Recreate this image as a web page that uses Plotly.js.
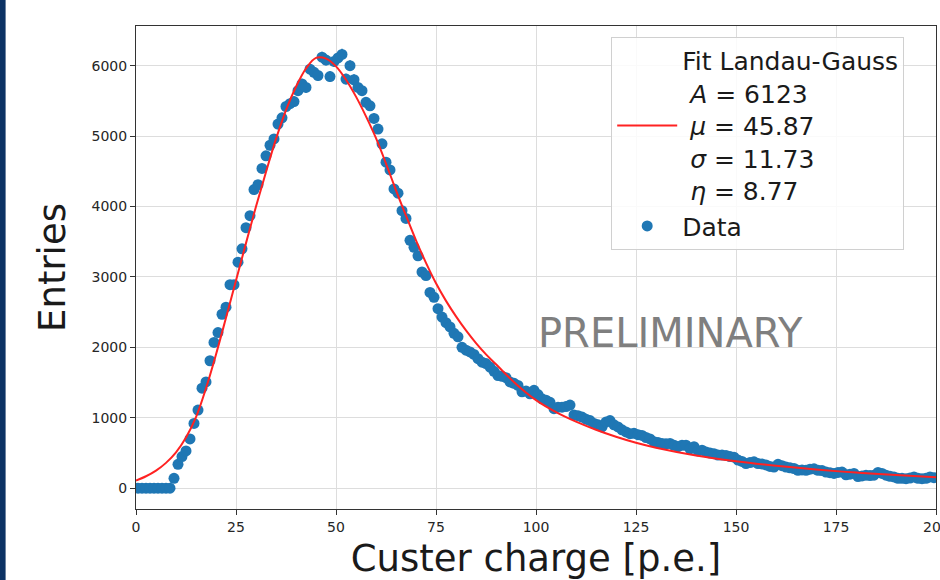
<!DOCTYPE html>
<html>
<head>
<meta charset="utf-8">
<script src="https://cdn.plot.ly/plotly-3.0.1.min.js"></script>
<style>html,body{margin:0;padding:0;background:#fff;}#chart{width:940px;height:580px;}</style>
</head>
<body>
<div id="chart"></div>
<script>
// Histogram of cluster charge: bin centres start at 0.5, bin width 1 p.e.
const binStart = 0.5;
const binWidth = 1;
const dataEntries = [
  0, 0, 0, 0, 0, 0, 0, 0, 0, 140,
  340, 450, 530, 700, 920, 1110, 1420, 1510, 1810, 2070,
  2210, 2470, 2570, 2890, 2890, 3210, 3400, 3700, 3870, 4240,
  4310, 4540, 4720, 4870, 4960, 5170, 5260, 5420, 5460, 5490,
  5645, 5740, 5690, 5950, 5905, 5860, 6120, 6080, 5845, 6060,
  6110, 6160, 5810, 6000, 5800, 5690, 5645, 5480, 5430, 5250,
  5100, 4890, 4630, 4520, 4250, 4190, 3940, 3830, 3520, 3420,
  3300, 3070, 3020, 2780, 2710, 2550, 2430, 2350, 2290, 2200,
  2150, 2000, 1960, 1935, 1900, 1840, 1790, 1770, 1720, 1660,
  1600, 1590, 1570, 1510, 1490, 1460, 1370, 1380, 1340, 1390,
  1330, 1270, 1250, 1220, 1130, 1150, 1150, 1160, 1180, 1040,
  1030, 1010, 980, 960, 920, 900, 870, 940, 960, 900,
  870, 830, 800, 775, 780, 760, 750, 720, 700, 660,
  650, 635, 630, 635, 610, 590, 610, 610, 560, 590,
  530, 540, 515, 500, 490, 470, 470, 465, 450, 440,
  400, 380, 350, 365, 375, 350, 345, 330, 310, 300,
  340, 320, 300, 290, 280, 255, 260, 255, 270, 275,
  255, 250, 230, 220, 210, 225, 230, 190, 200, 210,
  165, 175, 185, 180, 185, 225, 210, 185, 170, 160,
  140, 140, 135, 145, 160, 140, 135, 140, 160, 150
];
const dataCharge = dataEntries.map((_, i) => binStart + i * binWidth);

// Fit curve
const fitCharge = [0, 2.5, 5, 7.5, 10, 12.5, 15, 17.5, 20, 22.5, 25, 27.5, 30, 32.5, 35, 37.5, 40, 42.5, 45, 47.5, 50, 52.5, 55, 57.5, 60, 62.5, 65, 67.5, 70, 72.5, 75, 77.5, 80, 82.5, 85, 87.5, 90, 95, 100, 105, 110, 115, 120, 125, 130, 140, 150, 160, 170, 180, 190, 200];
const fitEntries = [110, 170, 250, 360, 510, 720, 1010, 1420, 1900, 2420, 2950, 3480, 4000, 4490, 4960, 5370, 5700, 5960, 6110, 6100, 5990, 5800, 5560, 5280, 4970, 4610, 4230, 3870, 3520, 3200, 2910, 2660, 2440, 2240, 2060, 1900, 1760, 1480, 1250, 1080, 945, 830, 730, 645, 575, 465, 383, 318, 265, 222, 187, 157];

const fitLabel = 'Fit Landau-Gauss<br>\u00a0<i>A</i> = 6123<br>\u00a0<i>μ</i> = 45.87<br>\u00a0<i>σ</i> = 11.73<br>\u00a0<i>η</i> = 8.77';
const xTicks = [0, 25, 50, 75, 100, 125, 150, 175, 200];
const yTicks = [0, 1000, 2000, 3000, 4000, 5000, 6000];

const FONT = 'DejaVu Sans, Verdana, sans-serif';

const traces = [
  {
    x: dataCharge, y: dataEntries, type: 'scatter', mode: 'markers', name: 'Data',
    marker: {color: '#1f77b4', size: 11},
    error_y: {type: 'sqrt', visible: true, color: '#1f77b4', thickness: 1.5, width: 0}
  },
  {
    x: fitCharge, y: fitEntries, type: 'scatter', mode: 'lines', name: fitLabel,
    line: {color: '#ff2222', width: 2, shape: 'spline', smoothing: 1}
  }
];

const layout = {
  width: 940, height: 580,
  paper_bgcolor: '#ffffff', plot_bgcolor: '#ffffff',
  margin: {l: 136, r: 4, t: 26, b: 70.5, pad: 0},
  font: {family: FONT, color: '#262626'},
  showlegend: true,
  legend: {
    x: 0.594, y: 0.978, xanchor: 'left', yanchor: 'top',
    traceorder: 'reversed', bgcolor: 'rgba(255,255,255,0.85)',
    bordercolor: '#d0d0d0', borderwidth: 1,
    font: {family: FONT, size: 25, color: '#1a1a1a'},
    itemwidth: 60, tracegroupgap: 4
  },
  xaxis: {
    range: [0, 200], tickvals: xTicks, ticktext: xTicks.map(String),
    showgrid: true, gridcolor: '#dddddd', gridwidth: 1, zeroline: false,
    showline: true, mirror: true, linecolor: '#333333', linewidth: 1,
    ticks: 'outside', ticklen: 5, tickcolor: '#333333',
    tickfont: {family: FONT, size: 14, color: '#262626'},
    title: {text: 'Custer charge [p.e.]', font: {family: FONT, size: 37, color: '#1a1a1a'}, standoff: 11}
  },
  yaxis: {
    range: [-295, 6563], tickvals: yTicks, ticktext: yTicks.map(String),
    showgrid: true, gridcolor: '#dddddd', gridwidth: 1, zeroline: false,
    showline: true, mirror: true, linecolor: '#333333', linewidth: 1,
    ticks: 'outside', ticklen: 5, tickcolor: '#333333',
    tickfont: {family: FONT, size: 14, color: '#262626'},
    title: {text: 'Entries', font: {family: FONT, size: 37, color: '#1a1a1a'}, standoff: 14}
  },
  annotations: [
    {
      x: 133.5, y: 2210, xref: 'x', yref: 'y', text: 'PRELIMINARY', showarrow: false,
      font: {family: FONT, size: 40, color: '#7f7f7f'}, xanchor: 'center', yanchor: 'middle'
    },
    {
      x: 200, y: -0.016, xref: 'x', yref: 'paper', text: String(xTicks[xTicks.length - 1]), showarrow: false,
      font: {family: FONT, size: 14, color: '#262626'}, xanchor: 'center', yanchor: 'top'
    }
  ],
  shapes: [{
    type: 'rect', xref: 'paper', yref: 'paper', x0: -0.171, x1: -0.163, y0: -0.2, y1: 1.2,
    fillcolor: '#0c3264', line: {width: 0}, layer: 'above'
  }]
};

Plotly.newPlot('chart', traces, layout, {displayModeBar: false, staticPlot: true});
</script>
</body>
</html>
